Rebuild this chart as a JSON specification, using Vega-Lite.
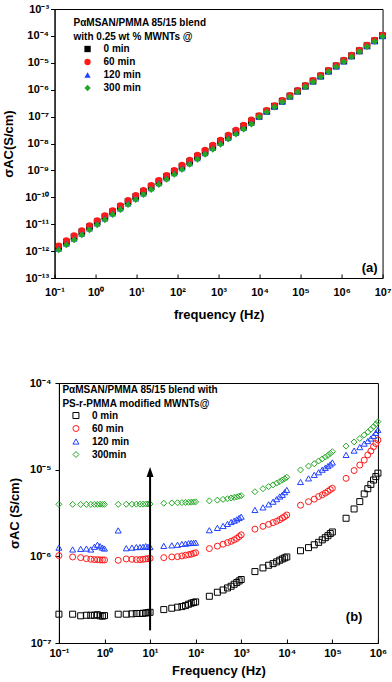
{
  "$schema": "https://vega.github.io/schema/vega-lite/v6.json",
  "padding": {"left": 1.5, "top": 2, "right": 2, "bottom": 0},
  "spacing": 54,
  "center": true,
  "config": {
    "font": "Liberation Sans",
    "view": {"stroke": "black", "strokeWidth": 1},
    "axis": {
      "grid": false, "labelFont": "Liberation Sans", "labelFontWeight": "bold", "labelFontSize": 11,
      "labelColor": "black", "titleFont": "Liberation Sans", "titleFontWeight": "bold", "titleFontSize": 13,
      "titleColor": "black", "domainColor": "black", "tickColor": "black", "labelFlush": false, "labelOverlap": false
    },
    "legend": {
      "labelFont": "Liberation Sans", "titleFont": "Liberation Sans", "labelFontWeight": "bold", "titleFontWeight": "bold",
      "labelFontSize": 10, "titleFontSize": 10, "labelColor": "black", "titleColor": "black", "padding": 0
    }
  },
  "resolve": {
    "scale": {"color": "independent", "shape": "independent"},
    "legend": {"color": "independent", "shape": "independent"}
  },
  "vconcat": [
    {
      "width": 328, "height": 269,
      "layer": [
        {
          "data": {"values": [
            {"f":0.126,"s":1.41e-12,"g":"0 min"},{"f":0.194,"s":2.17e-12,"g":"0 min"},{"f":0.299,"s":3.34e-12,"g":"0 min"},{"f":0.461,"s":5.14e-12,"g":"0 min"},{"f":0.711,"s":7.91e-12,"g":"0 min"},{"f":1.096,"s":1.22e-11,"g":"0 min"},{"f":1.69,"s":1.87e-11,"g":"0 min"},{"f":2.606,"s":2.88e-11,"g":"0 min"},{"f":4.018,"s":4.43e-11,"g":"0 min"},{"f":6.194,"s":6.82e-11,"g":"0 min"},{"f":9.55,"s":1.05e-10,"g":"0 min"},{"f":14.72,"s":1.61e-10,"g":"0 min"},{"f":22.7,"s":2.48e-10,"g":"0 min"},{"f":34.99,"s":3.82e-10,"g":"0 min"},{"f":53.95,"s":5.88e-10,"g":"0 min"},{"f":83.18,"s":9.04e-10,"g":"0 min"},{"f":128.2,"s":1.39e-9,"g":"0 min"},{"f":197.7,"s":2.14e-9,"g":"0 min"},{"f":304.8,"s":3.29e-9,"g":"0 min"},{"f":469.9,"s":5.06e-9,"g":"0 min"},{"f":724.4,"s":7.78e-9,"g":"0 min"},{"f":1117,"s":1.2e-8,"g":"0 min"},{"f":1722,"s":1.84e-8,"g":"0 min"},{"f":2655,"s":2.83e-8,"g":"0 min"},{"f":4093,"s":4.36e-8,"g":"0 min"},{"f":6310,"s":6.71e-8,"g":"0 min"},{"f":9727,"s":1.03e-7,"g":"0 min"},{"f":15000,"s":1.59e-7,"g":"0 min"},{"f":23120,"s":2.44e-7,"g":"0 min"},{"f":35650,"s":3.76e-7,"g":"0 min"},{"f":54950,"s":5.78e-7,"g":"0 min"},{"f":84720,"s":8.89e-7,"g":"0 min"},{"f":130600,"s":1.37e-6,"g":"0 min"},{"f":201400,"s":2.1e-6,"g":"0 min"},{"f":310500,"s":3.24e-6,"g":"0 min"},{"f":478600,"s":4.98e-6,"g":"0 min"},{"f":737900,"s":7.66e-6,"g":"0 min"},{"f":1138000,"s":1.18e-5,"g":"0 min"},{"f":1754000,"s":1.81e-5,"g":"0 min"},{"f":2704000,"s":2.79e-5,"g":"0 min"},{"f":4169000,"s":4.29e-5,"g":"0 min"},{"f":6427000,"s":6.6e-5,"g":"0 min"},{"f":9908000,"s":1.02e-4,"g":"0 min"},
            {"f":0.126,"s":1.58e-12,"g":"60 min"},{"f":0.194,"s":2.43e-12,"g":"60 min"},{"f":0.299,"s":3.74e-12,"g":"60 min"},{"f":0.461,"s":5.76e-12,"g":"60 min"},{"f":0.711,"s":8.86e-12,"g":"60 min"},{"f":1.096,"s":1.37e-11,"g":"60 min"},{"f":1.69,"s":2.09e-11,"g":"60 min"},{"f":2.606,"s":3.23e-11,"g":"60 min"},{"f":4.018,"s":4.96e-11,"g":"60 min"},{"f":6.194,"s":7.64e-11,"g":"60 min"},{"f":9.55,"s":1.18e-10,"g":"60 min"},{"f":14.72,"s":1.8e-10,"g":"60 min"},{"f":22.7,"s":2.78e-10,"g":"60 min"},{"f":34.99,"s":4.28e-10,"g":"60 min"},{"f":53.95,"s":6.59e-10,"g":"60 min"},{"f":83.18,"s":1.01e-9,"g":"60 min"},{"f":128.2,"s":1.56e-9,"g":"60 min"},{"f":197.7,"s":2.4e-9,"g":"60 min"},{"f":304.8,"s":3.68e-9,"g":"60 min"},{"f":469.9,"s":5.67e-9,"g":"60 min"},{"f":724.4,"s":8.71e-9,"g":"60 min"},{"f":1117,"s":1.34e-8,"g":"60 min"},{"f":1722,"s":2.06e-8,"g":"60 min"},{"f":2655,"s":3.17e-8,"g":"60 min"},{"f":4093,"s":4.88e-8,"g":"60 min"},{"f":6310,"s":7.52e-8,"g":"60 min"},{"f":9727,"s":1.09e-7,"g":"60 min"},{"f":15000,"s":1.69e-7,"g":"60 min"},{"f":23120,"s":2.59e-7,"g":"60 min"},{"f":35650,"s":3.99e-7,"g":"60 min"},{"f":54950,"s":6.13e-7,"g":"60 min"},{"f":84720,"s":9.42e-7,"g":"60 min"},{"f":130600,"s":1.45e-6,"g":"60 min"},{"f":201400,"s":2.23e-6,"g":"60 min"},{"f":310500,"s":3.43e-6,"g":"60 min"},{"f":478600,"s":5.28e-6,"g":"60 min"},{"f":737900,"s":8.12e-6,"g":"60 min"},{"f":1138000,"s":1.25e-5,"g":"60 min"},{"f":1754000,"s":1.92e-5,"g":"60 min"},{"f":2704000,"s":2.96e-5,"g":"60 min"},{"f":4169000,"s":4.55e-5,"g":"60 min"},{"f":6427000,"s":7.0e-5,"g":"60 min"},{"f":9908000,"s":1.08e-4,"g":"60 min"},
            {"f":0.126,"s":1.21e-12,"g":"120 min"},{"f":0.194,"s":1.87e-12,"g":"120 min"},{"f":0.299,"s":2.87e-12,"g":"120 min"},{"f":0.461,"s":4.42e-12,"g":"120 min"},{"f":0.711,"s":6.8e-12,"g":"120 min"},{"f":1.096,"s":1.05e-11,"g":"120 min"},{"f":1.69,"s":1.61e-11,"g":"120 min"},{"f":2.606,"s":2.48e-11,"g":"120 min"},{"f":4.018,"s":3.81e-11,"g":"120 min"},{"f":6.194,"s":5.87e-11,"g":"120 min"},{"f":9.55,"s":9.03e-11,"g":"120 min"},{"f":14.72,"s":1.38e-10,"g":"120 min"},{"f":22.7,"s":2.13e-10,"g":"120 min"},{"f":34.99,"s":3.29e-10,"g":"120 min"},{"f":53.95,"s":5.06e-10,"g":"120 min"},{"f":83.18,"s":7.77e-10,"g":"120 min"},{"f":128.2,"s":1.2e-9,"g":"120 min"},{"f":197.7,"s":1.84e-9,"g":"120 min"},{"f":304.8,"s":2.83e-9,"g":"120 min"},{"f":469.9,"s":4.35e-9,"g":"120 min"},{"f":724.4,"s":6.69e-9,"g":"120 min"},{"f":1117,"s":1.03e-8,"g":"120 min"},{"f":1722,"s":1.58e-8,"g":"120 min"},{"f":2655,"s":2.43e-8,"g":"120 min"},{"f":4093,"s":3.75e-8,"g":"120 min"},{"f":6310,"s":5.77e-8,"g":"120 min"},{"f":9727,"s":9.79e-8,"g":"120 min"},{"f":15000,"s":1.51e-7,"g":"120 min"},{"f":23120,"s":2.32e-7,"g":"120 min"},{"f":35650,"s":3.57e-7,"g":"120 min"},{"f":54950,"s":5.49e-7,"g":"120 min"},{"f":84720,"s":8.45e-7,"g":"120 min"},{"f":130600,"s":1.3e-6,"g":"120 min"},{"f":201400,"s":2.0e-6,"g":"120 min"},{"f":310500,"s":3.08e-6,"g":"120 min"},{"f":478600,"s":4.73e-6,"g":"120 min"},{"f":737900,"s":7.28e-6,"g":"120 min"},{"f":1138000,"s":1.12e-5,"g":"120 min"},{"f":1754000,"s":1.72e-5,"g":"120 min"},{"f":2704000,"s":2.65e-5,"g":"120 min"},{"f":4169000,"s":4.08e-5,"g":"120 min"},{"f":6427000,"s":6.27e-5,"g":"120 min"},{"f":9908000,"s":9.69e-5,"g":"120 min"},
            {"f":0.126,"s":1.1e-12,"g":"300 min"},{"f":0.194,"s":1.69e-12,"g":"300 min"},{"f":0.299,"s":2.61e-12,"g":"300 min"},{"f":0.461,"s":4.01e-12,"g":"300 min"},{"f":0.711,"s":6.17e-12,"g":"300 min"},{"f":1.096,"s":9.52e-12,"g":"300 min"},{"f":1.69,"s":1.46e-11,"g":"300 min"},{"f":2.606,"s":2.25e-11,"g":"300 min"},{"f":4.018,"s":3.46e-11,"g":"300 min"},{"f":6.194,"s":5.32e-11,"g":"300 min"},{"f":9.55,"s":8.19e-11,"g":"300 min"},{"f":14.72,"s":1.26e-10,"g":"300 min"},{"f":22.7,"s":1.93e-10,"g":"300 min"},{"f":34.99,"s":2.98e-10,"g":"300 min"},{"f":53.95,"s":4.59e-10,"g":"300 min"},{"f":83.18,"s":7.05e-10,"g":"300 min"},{"f":128.2,"s":1.08e-9,"g":"300 min"},{"f":197.7,"s":1.67e-9,"g":"300 min"},{"f":304.8,"s":2.57e-9,"g":"300 min"},{"f":469.9,"s":3.95e-9,"g":"300 min"},{"f":724.4,"s":6.07e-9,"g":"300 min"},{"f":1117,"s":9.36e-9,"g":"300 min"},{"f":1722,"s":1.44e-8,"g":"300 min"},{"f":2655,"s":2.21e-8,"g":"300 min"},{"f":4093,"s":3.4e-8,"g":"300 min"},{"f":6310,"s":5.23e-8,"g":"300 min"},{"f":9727,"s":9.58e-8,"g":"300 min"},{"f":15000,"s":1.48e-7,"g":"300 min"},{"f":23120,"s":2.27e-7,"g":"300 min"},{"f":35650,"s":3.5e-7,"g":"300 min"},{"f":54950,"s":5.38e-7,"g":"300 min"},{"f":84720,"s":8.27e-7,"g":"300 min"},{"f":130600,"s":1.27e-6,"g":"300 min"},{"f":201400,"s":1.95e-6,"g":"300 min"},{"f":310500,"s":3.01e-6,"g":"300 min"},{"f":478600,"s":4.63e-6,"g":"300 min"},{"f":737900,"s":7.12e-6,"g":"300 min"},{"f":1138000,"s":1.1e-5,"g":"300 min"},{"f":1754000,"s":1.68e-5,"g":"300 min"},{"f":2704000,"s":2.59e-5,"g":"300 min"},{"f":4169000,"s":3.99e-5,"g":"300 min"},{"f":6427000,"s":6.14e-5,"g":"300 min"},{"f":9908000,"s":9.49e-5,"g":"300 min"}
          ]},
          "mark": {"type": "point", "filled": true, "opacity": 1, "size": 45},
          "encoding": {
            "x": {"field": "f", "type": "quantitative",
              "scale": {"type": "log", "domain": [0.1, 10000000], "nice": false},
              "axis": {"title": "frequency (Hz)", "values": [0.1, 1, 10, 100, 1000, 10000, 100000, 1000000, 10000000],
                "tickSize": -4, "labelPadding": 12, "titlePadding": 11,
                "labelExpr": "'10' + ['⁻¹³','⁻¹²','⁻¹¹','⁻¹⁰','⁻⁹','⁻⁸','⁻⁷','⁻⁶','⁻⁵','⁻⁴','⁻³','⁻²','⁻¹','⁰','¹','²','³','⁴','⁵','⁶','⁷'][round(log(datum.value)/LN10)+13]"}},
            "y": {"field": "s", "type": "quantitative",
              "scale": {"type": "log", "domain": [1e-13, 0.001], "nice": false},
              "axis": {"title": "σAC(S/cm)", "values": [1e-13, 1e-12, 1e-11, 1e-10, 1e-9, 1e-8, 1e-7, 1e-6, 1e-5, 1e-4, 0.001],
                "tickSize": 4, "labelPadding": 2, "titleX": -39.5,
                "labelExpr": "'10' + ['⁻¹³','⁻¹²','⁻¹¹','⁻¹⁰','⁻⁹','⁻⁸','⁻⁷','⁻⁶','⁻⁵','⁻⁴','⁻³','⁻²','⁻¹','⁰','¹','²','³','⁴','⁵','⁶','⁷'][round(log(datum.value)/LN10)+13]"}},
            "color": {"field": "g", "type": "nominal",
              "scale": {"domain": ["0 min", "60 min", "120 min", "300 min"], "range": ["#000000", "#ff1a1a", "#2040ff", "#22a822"]},
              "legend": {"orient": "none", "legendX": 19, "legendY": 9,
                "title": ["PαMSAN/PMMA 85/15 blend", "with 0.25 wt % MWNTs @"],
                "titleLineHeight": 14, "titlePadding": 2, "symbolOffset": 9, "labelOffset": 11, "rowPadding": 3, "symbolSize": 40}},
            "shape": {"field": "g", "type": "nominal",
              "scale": {"domain": ["0 min", "60 min", "120 min", "300 min"], "range": ["square", "circle", "triangle-up", "diamond"]}}
          }
        },
        {
          "data": {"values": [{"f": 7550000, "s": 2.3e-13, "t": "(a)"}]},
          "mark": {"type": "text", "align": "right", "baseline": "middle", "fontSize": 13, "fontWeight": "bold", "font": "Liberation Sans", "color": "black"},
          "encoding": {
            "x": {"field": "f", "type": "quantitative"},
            "y": {"field": "s", "type": "quantitative"},
            "text": {"field": "t"}
          }
        }
      ]
    },
    {
      "width": 319, "height": 260,
      "layer": [
        {
          "data": {"values": [
            {"f":0.1,"s":2.15e-7,"g":"0 min"},{"f":0.2,"s":2.15e-7,"g":"0 min"},{"f":0.3,"s":2.06e-7,"g":"0 min"},{"f":0.4,"s":2.09e-7,"g":"0 min"},{"f":0.5,"s":2.09e-7,"g":"0 min"},{"f":0.6,"s":2.09e-7,"g":"0 min"},{"f":0.7,"s":2.12e-7,"g":"0 min"},{"f":0.8,"s":2.06e-7,"g":"0 min"},{"f":0.9,"s":2.04e-7,"g":"0 min"},{"f":1,"s":2.07e-7,"g":"0 min"},
            {"f":2,"s":2.15e-7,"g":"0 min"},{"f":3,"s":2.15e-7,"g":"0 min"},{"f":4,"s":2.17e-7,"g":"0 min"},{"f":5,"s":2.19e-7,"g":"0 min"},{"f":6,"s":2.19e-7,"g":"0 min"},{"f":7,"s":2.2e-7,"g":"0 min"},{"f":8,"s":2.22e-7,"g":"0 min"},{"f":9,"s":2.24e-7,"g":"0 min"},{"f":10,"s":2.26e-7,"g":"0 min"},
            {"f":20,"s":2.43e-7,"g":"0 min"},{"f":30,"s":2.52e-7,"g":"0 min"},{"f":40,"s":2.59e-7,"g":"0 min"},{"f":50,"s":2.63e-7,"g":"0 min"},{"f":60,"s":2.7e-7,"g":"0 min"},{"f":70,"s":2.8e-7,"g":"0 min"},{"f":80,"s":2.88e-7,"g":"0 min"},{"f":90,"s":2.93e-7,"g":"0 min"},{"f":100,"s":2.98e-7,"g":"0 min"},
            {"f":200,"s":3.46e-7,"g":"0 min"},{"f":300,"s":3.85e-7,"g":"0 min"},{"f":400,"s":4.09e-7,"g":"0 min"},{"f":500,"s":4.32e-7,"g":"0 min"},{"f":600,"s":4.52e-7,"g":"0 min"},{"f":700,"s":4.76e-7,"g":"0 min"},{"f":800,"s":4.98e-7,"g":"0 min"},{"f":900,"s":5.2e-7,"g":"0 min"},{"f":1000,"s":5.4e-7,"g":"0 min"},
            {"f":2000,"s":6.67e-7,"g":"0 min"},{"f":3000,"s":7.35e-7,"g":"0 min"},{"f":4000,"s":7.89e-7,"g":"0 min"},{"f":5000,"s":8.24e-7,"g":"0 min"},{"f":6000,"s":8.63e-7,"g":"0 min"},{"f":7000,"s":9.02e-7,"g":"0 min"},{"f":8000,"s":9.33e-7,"g":"0 min"},{"f":9000,"s":9.59e-7,"g":"0 min"},{"f":10000,"s":9.84e-7,"g":"0 min"},
            {"f":20000,"s":1.16e-6,"g":"0 min"},{"f":30000,"s":1.26e-6,"g":"0 min"},{"f":40000,"s":1.36e-6,"g":"0 min"},{"f":50000,"s":1.45e-6,"g":"0 min"},{"f":60000,"s":1.55e-6,"g":"0 min"},{"f":70000,"s":1.64e-6,"g":"0 min"},{"f":80000,"s":1.73e-6,"g":"0 min"},{"f":90000,"s":1.83e-6,"g":"0 min"},{"f":100000,"s":1.91e-6,"g":"0 min"},
            {"f":200000,"s":2.75e-6,"g":"0 min"},{"f":300000,"s":3.52e-6,"g":"0 min"},{"f":400000,"s":4.28e-6,"g":"0 min"},{"f":500000,"s":5.25e-6,"g":"0 min"},{"f":600000,"s":6.03e-6,"g":"0 min"},{"f":700000,"s":6.76e-6,"g":"0 min"},{"f":800000,"s":7.59e-6,"g":"0 min"},{"f":900000,"s":8.32e-6,"g":"0 min"},{"f":1000000,"s":9.12e-6,"g":"0 min"},
            {"f":0.1,"s":1.02e-6,"g":"60 min"},{"f":0.2,"s":9.84e-7,"g":"60 min"},{"f":0.3,"s":9.66e-7,"g":"60 min"},{"f":0.4,"s":9.4e-7,"g":"60 min"},{"f":0.5,"s":9.25e-7,"g":"60 min"},{"f":0.6,"s":9.16e-7,"g":"60 min"},{"f":0.7,"s":9.16e-7,"g":"60 min"},{"f":0.8,"s":9.08e-7,"g":"60 min"},{"f":0.9,"s":9.08e-7,"g":"60 min"},{"f":1,"s":9.08e-7,"g":"60 min"},
            {"f":2,"s":9.0e-7,"g":"60 min"},{"f":3,"s":9.33e-7,"g":"60 min"},{"f":4,"s":9.25e-7,"g":"60 min"},{"f":5,"s":9.16e-7,"g":"60 min"},{"f":6,"s":9.16e-7,"g":"60 min"},{"f":7,"s":9.25e-7,"g":"60 min"},{"f":8,"s":9.33e-7,"g":"60 min"},{"f":9,"s":9.4e-7,"g":"60 min"},{"f":10,"s":9.48e-7,"g":"60 min"},
            {"f":20,"s":9.66e-7,"g":"60 min"},{"f":30,"s":9.84e-7,"g":"60 min"},{"f":40,"s":9.91e-7,"g":"60 min"},{"f":50,"s":1.01e-6,"g":"60 min"},{"f":60,"s":1.03e-6,"g":"60 min"},{"f":70,"s":1.045e-6,"g":"60 min"},{"f":80,"s":1.06e-6,"g":"60 min"},{"f":90,"s":1.08e-6,"g":"60 min"},{"f":100,"s":1.1e-6,"g":"60 min"},
            {"f":200,"s":1.23e-6,"g":"60 min"},{"f":300,"s":1.31e-6,"g":"60 min"},{"f":400,"s":1.38e-6,"g":"60 min"},{"f":500,"s":1.44e-6,"g":"60 min"},{"f":600,"s":1.49e-6,"g":"60 min"},{"f":700,"s":1.55e-6,"g":"60 min"},{"f":800,"s":1.61e-6,"g":"60 min"},{"f":900,"s":1.69e-6,"g":"60 min"},{"f":1000,"s":1.77e-6,"g":"60 min"},
            {"f":2000,"s":2.06e-6,"g":"60 min"},{"f":3000,"s":2.22e-6,"g":"60 min"},{"f":4000,"s":2.34e-6,"g":"60 min"},{"f":5000,"s":2.45e-6,"g":"60 min"},{"f":6000,"s":2.54e-6,"g":"60 min"},{"f":7000,"s":2.65e-6,"g":"60 min"},{"f":8000,"s":2.77e-6,"g":"60 min"},{"f":9000,"s":2.87e-6,"g":"60 min"},{"f":10000,"s":3.0e-6,"g":"60 min"},
            {"f":20000,"s":3.89e-6,"g":"60 min"},{"f":30000,"s":4.27e-6,"g":"60 min"},{"f":40000,"s":4.57e-6,"g":"60 min"},{"f":50000,"s":4.9e-6,"g":"60 min"},{"f":60000,"s":5.13e-6,"g":"60 min"},{"f":70000,"s":5.37e-6,"g":"60 min"},{"f":80000,"s":5.62e-6,"g":"60 min"},{"f":90000,"s":5.89e-6,"g":"60 min"},{"f":100000,"s":6.1e-6,"g":"60 min"},
            {"f":200000,"s":7.94e-6,"g":"60 min"},{"f":300000,"s":9.77e-6,"g":"60 min"},{"f":400000,"s":1.13e-5,"g":"60 min"},{"f":500000,"s":1.29e-5,"g":"60 min"},{"f":600000,"s":1.48e-5,"g":"60 min"},{"f":700000,"s":1.64e-5,"g":"60 min"},{"f":800000,"s":1.84e-5,"g":"60 min"},{"f":900000,"s":2.0e-5,"g":"60 min"},{"f":1000000,"s":2.2e-5,"g":"60 min"},
            {"f":0.1,"s":1.26e-6,"g":"120 min"},{"f":0.2,"s":1.2e-6,"g":"120 min"},{"f":0.3,"s":1.22e-6,"g":"120 min"},{"f":0.4,"s":1.23e-6,"g":"120 min"},{"f":0.5,"s":1.2e-6,"g":"120 min"},{"f":0.6,"s":1.29e-6,"g":"120 min"},{"f":0.7,"s":1.36e-6,"g":"120 min"},{"f":0.8,"s":1.31e-6,"g":"120 min"},{"f":0.9,"s":1.26e-6,"g":"120 min"},{"f":1,"s":1.23e-6,"g":"120 min"},
            {"f":2,"s":1.99e-6,"g":"120 min"},{"f":3,"s":1.24e-6,"g":"120 min"},{"f":4,"s":1.26e-6,"g":"120 min"},{"f":5,"s":1.28e-6,"g":"120 min"},{"f":6,"s":1.28e-6,"g":"120 min"},{"f":7,"s":1.29e-6,"g":"120 min"},{"f":8,"s":1.31e-6,"g":"120 min"},{"f":9,"s":1.29e-6,"g":"120 min"},{"f":10,"s":1.28e-6,"g":"120 min"},
            {"f":20,"s":1.32e-6,"g":"120 min"},{"f":30,"s":1.34e-6,"g":"120 min"},{"f":40,"s":1.36e-6,"g":"120 min"},{"f":50,"s":1.39e-6,"g":"120 min"},{"f":60,"s":1.4e-6,"g":"120 min"},{"f":70,"s":1.42e-6,"g":"120 min"},{"f":80,"s":1.43e-6,"g":"120 min"},{"f":90,"s":1.43e-6,"g":"120 min"},{"f":100,"s":1.44e-6,"g":"120 min"},
            {"f":200,"s":2.0e-6,"g":"120 min"},{"f":300,"s":2.13e-6,"g":"120 min"},{"f":400,"s":2.24e-6,"g":"120 min"},{"f":500,"s":2.37e-6,"g":"120 min"},{"f":600,"s":2.49e-6,"g":"120 min"},{"f":700,"s":2.58e-6,"g":"120 min"},{"f":800,"s":2.67e-6,"g":"120 min"},{"f":900,"s":2.77e-6,"g":"120 min"},{"f":1000,"s":2.87e-6,"g":"120 min"},
            {"f":2000,"s":3.43e-6,"g":"120 min"},{"f":3000,"s":3.67e-6,"g":"120 min"},{"f":4000,"s":3.98e-6,"g":"120 min"},{"f":5000,"s":4.27e-6,"g":"120 min"},{"f":6000,"s":4.57e-6,"g":"120 min"},{"f":7000,"s":4.9e-6,"g":"120 min"},{"f":8000,"s":5.13e-6,"g":"120 min"},{"f":9000,"s":5.5e-6,"g":"120 min"},{"f":10000,"s":5.83e-6,"g":"120 min"},
            {"f":20000,"s":7.21e-6,"g":"120 min"},{"f":30000,"s":7.94e-6,"g":"120 min"},{"f":40000,"s":8.71e-6,"g":"120 min"},{"f":50000,"s":9.33e-6,"g":"120 min"},{"f":60000,"s":1.0e-5,"g":"120 min"},{"f":70000,"s":1.05e-5,"g":"120 min"},{"f":80000,"s":1.1e-5,"g":"120 min"},{"f":90000,"s":1.15e-5,"g":"120 min"},{"f":100000,"s":1.21e-5,"g":"120 min"},
            {"f":200000,"s":1.48e-5,"g":"120 min"},{"f":300000,"s":1.66e-5,"g":"120 min"},{"f":400000,"s":1.82e-5,"g":"120 min"},{"f":500000,"s":2.0e-5,"g":"120 min"},{"f":600000,"s":2.14e-5,"g":"120 min"},{"f":700000,"s":2.29e-5,"g":"120 min"},{"f":800000,"s":2.45e-5,"g":"120 min"},{"f":900000,"s":2.66e-5,"g":"120 min"},{"f":1000000,"s":2.87e-5,"g":"120 min"},
            {"f":0.1,"s":3.98e-6,"g":"300min"},{"f":0.2,"s":3.98e-6,"g":"300min"},{"f":0.3,"s":3.97e-6,"g":"300min"},{"f":0.4,"s":3.98e-6,"g":"300min"},{"f":0.5,"s":3.97e-6,"g":"300min"},{"f":0.6,"s":3.98e-6,"g":"300min"},{"f":0.7,"s":3.98e-6,"g":"300min"},{"f":0.8,"s":3.99e-6,"g":"300min"},{"f":0.9,"s":3.98e-6,"g":"300min"},{"f":1,"s":3.98e-6,"g":"300min"},
            {"f":2,"s":3.98e-6,"g":"300min"},{"f":3,"s":3.99e-6,"g":"300min"},{"f":4,"s":3.99e-6,"g":"300min"},{"f":5,"s":4.0e-6,"g":"300min"},{"f":6,"s":4.0e-6,"g":"300min"},{"f":7,"s":4.0e-6,"g":"300min"},{"f":8,"s":4.01e-6,"g":"300min"},{"f":9,"s":4.02e-6,"g":"300min"},{"f":10,"s":4.02e-6,"g":"300min"},
            {"f":20,"s":4.1e-6,"g":"300min"},{"f":30,"s":4.13e-6,"g":"300min"},{"f":40,"s":4.15e-6,"g":"300min"},{"f":50,"s":4.17e-6,"g":"300min"},{"f":60,"s":4.19e-6,"g":"300min"},{"f":70,"s":4.21e-6,"g":"300min"},{"f":80,"s":4.22e-6,"g":"300min"},{"f":90,"s":4.24e-6,"g":"300min"},{"f":100,"s":4.25e-6,"g":"300min"},
            {"f":200,"s":4.36e-6,"g":"300min"},{"f":300,"s":4.45e-6,"g":"300min"},{"f":400,"s":4.54e-6,"g":"300min"},{"f":500,"s":4.62e-6,"g":"300min"},{"f":600,"s":4.71e-6,"g":"300min"},{"f":700,"s":4.79e-6,"g":"300min"},{"f":800,"s":4.86e-6,"g":"300min"},{"f":900,"s":4.94e-6,"g":"300min"},{"f":1000,"s":5.01e-6,"g":"300min"},
            {"f":2000,"s":5.57e-6,"g":"300min"},{"f":3000,"s":6.03e-6,"g":"300min"},{"f":4000,"s":6.38e-6,"g":"300min"},{"f":5000,"s":6.68e-6,"g":"300min"},{"f":6000,"s":7.0e-6,"g":"300min"},{"f":7000,"s":7.28e-6,"g":"300min"},{"f":8000,"s":7.59e-6,"g":"300min"},{"f":9000,"s":7.87e-6,"g":"300min"},{"f":10000,"s":8.17e-6,"g":"300min"},
            {"f":20000,"s":9.93e-6,"g":"300min"},{"f":30000,"s":1.1e-5,"g":"300min"},{"f":40000,"s":1.17e-5,"g":"300min"},{"f":50000,"s":1.26e-5,"g":"300min"},{"f":60000,"s":1.33e-5,"g":"300min"},{"f":70000,"s":1.4e-5,"g":"300min"},{"f":80000,"s":1.46e-5,"g":"300min"},{"f":90000,"s":1.54e-5,"g":"300min"},{"f":100000,"s":1.61e-5,"g":"300min"},
            {"f":200000,"s":1.87e-5,"g":"300min"},{"f":300000,"s":2.09e-5,"g":"300min"},{"f":400000,"s":2.29e-5,"g":"300min"},{"f":500000,"s":2.51e-5,"g":"300min"},{"f":600000,"s":2.72e-5,"g":"300min"},{"f":700000,"s":2.92e-5,"g":"300min"},{"f":800000,"s":3.13e-5,"g":"300min"},{"f":900000,"s":3.35e-5,"g":"300min"},{"f":1000000,"s":3.58e-5,"g":"300min"}
          ]},
          "mark": {"type": "point", "filled": false, "opacity": 1, "size": 36, "strokeWidth": 1},
          "encoding": {
            "x": {"field": "f", "type": "quantitative",
              "scale": {"type": "log", "domain": [0.1, 1000000], "nice": false},
              "axis": {"title": "Frequency (Hz)", "values": [0.1, 1, 10, 100, 1000, 10000, 100000, 1000000],
                "tickSize": -4, "labelPadding": 8, "titlePadding": 6,
                "labelExpr": "'10' + ['⁻¹³','⁻¹²','⁻¹¹','⁻¹⁰','⁻⁹','⁻⁸','⁻⁷','⁻⁶','⁻⁵','⁻⁴','⁻³','⁻²','⁻¹','⁰','¹','²','³','⁴','⁵','⁶','⁷'][round(log(datum.value)/LN10)+13]"}},
            "y": {"field": "s", "type": "quantitative",
              "scale": {"type": "log", "domain": [1e-7, 0.0001], "nice": false},
              "axis": {"title": "σAC (S/cm)", "values": [1e-7, 1e-6, 1e-5, 1e-4],
                "tickSize": 4, "labelPadding": 4, "titleX": -37,
                "labelExpr": "'10' + ['⁻¹³','⁻¹²','⁻¹¹','⁻¹⁰','⁻⁹','⁻⁸','⁻⁷','⁻⁶','⁻⁵','⁻⁴','⁻³','⁻²','⁻¹','⁰','¹','²','³','⁴','⁵','⁶','⁷'][round(log(datum.value)/LN10)+13]"}},
            "color": {"field": "g", "type": "nominal",
              "scale": {"domain": ["0 min", "60 min", "120 min", "300min"], "range": ["#000000", "#ff1a1a", "#2040ff", "#22a822"]},
              "legend": {"orient": "none", "legendX": 3.5, "legendY": 2,
                "title": ["PαMSAN/PMMA 85/15 blend with", "PS-r-PMMA modified MWNTs@"],
                "titleLineHeight": 13.5, "titlePadding": 2, "symbolOffset": 8.5, "labelOffset": 11, "rowPadding": 3, "symbolSize": 36, "symbolStrokeWidth": 1}},
            "shape": {"field": "g", "type": "nominal",
              "scale": {"domain": ["0 min", "60 min", "120 min", "300min"], "range": ["square", "circle", "triangle-up", "diamond"]}}
          }
        },
        {
          "data": {"values": [{"f": 10, "s1": 1.4e-7, "s2": 9e-6}]},
          "mark": {"type": "rule", "color": "black", "strokeWidth": 2},
          "encoding": {
            "x": {"field": "f", "type": "quantitative"},
            "y": {"field": "s1", "type": "quantitative"},
            "y2": {"field": "s2"}
          }
        },
        {
          "data": {"values": [{"f": 10, "s": 9.4e-6}]},
          "mark": {"type": "point", "shape": "M0,-1L0.7,1L-0.7,1Z", "filled": true, "color": "black", "opacity": 1, "size": 100},
          "encoding": {
            "x": {"field": "f", "type": "quantitative"},
            "y": {"field": "s", "type": "quantitative"}
          }
        },
        {
          "data": {"values": [{"f": 457000, "s": 2.0e-7, "t": "(b)"}]},
          "mark": {"type": "text", "align": "right", "baseline": "middle", "fontSize": 13, "fontWeight": "bold", "font": "Liberation Sans", "color": "black"},
          "encoding": {
            "x": {"field": "f", "type": "quantitative"},
            "y": {"field": "s", "type": "quantitative"},
            "text": {"field": "t"}
          }
        }
      ]
    }
  ]
}
